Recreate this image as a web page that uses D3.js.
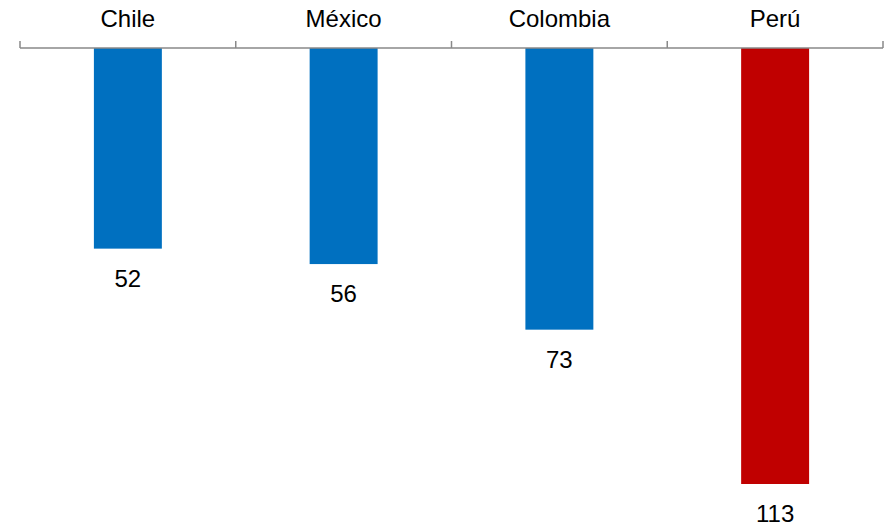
<!DOCTYPE html>
<html>
<head>
<meta charset="utf-8">
<script src="https://cdn.jsdelivr.net/npm/d3@7"></script>
<style>
  html, body { margin: 0; padding: 0; background: #ffffff; }
  svg { display: block; }
  text { font-family: "Liberation Sans", Arial, sans-serif; fill: #000; }
</style>
</head>
<body>
<svg id="chart" width="891" height="527"></svg>
<script>
// Country categories and their values
const countries = ["Chile", "México", "Colombia", "Perú"];
const values = [52, 56, 73, 113];
const barColors = ["#0070C0", "#0070C0", "#0070C0", "#C00000"];

const W = 891, H = 527;
const axisY = 48;
const left = 20, right = 883;

const svg = d3.select("#chart");

// Segment scale: one equal band per country along the axis
const seg = d3.scaleBand().domain(countries).range([left, right]).padding(0);
// Bar scale: narrow bars centered in each segment
const x = d3.scaleBand().domain(countries).range([left, right])
  .paddingInner(0.685).paddingOuter(0.3425);
// Values hang down from the axis
const y = d3.scaleLinear().domain([0, 113]).range([axisY, 484]);

// Bars
svg.append("g").selectAll("rect")
  .data(countries)
  .join("rect")
  .attr("x", d => x(d))
  .attr("y", y(0))
  .attr("width", x.bandwidth())
  .attr("height", (d, i) => y(values[i]) - y(0))
  .attr("fill", (d, i) => barColors[i]);

// Axis line with boundary ticks pointing up
const axisG = svg.append("g");
axisG.append("line")
  .attr("x1", left).attr("x2", right)
  .attr("y1", axisY).attr("y2", axisY)
  .attr("stroke", "#898989").attr("stroke-width", 1.5);
const bounds = countries.map(c => seg(c)).concat([right]);
axisG.selectAll("line.tick")
  .data(bounds)
  .join("line")
  .attr("class", "tick")
  .attr("x1", d => d).attr("x2", d => d)
  .attr("y1", axisY - 7).attr("y2", axisY)
  .attr("stroke", "#898989").attr("stroke-width", 1.5);

// Category labels above the axis
svg.append("g").selectAll("text")
  .data(countries)
  .join("text")
  .attr("x", d => seg(d) + seg.bandwidth() / 2)
  .attr("y", 27)
  .attr("text-anchor", "middle")
  .attr("font-size", 24)
  .text(d => d);

// Value labels below each bar
svg.append("g").selectAll("text")
  .data(countries)
  .join("text")
  .attr("x", d => x(d) + x.bandwidth() / 2)
  .attr("y", (d, i) => y(values[i]) + 38)
  .attr("text-anchor", "middle")
  .attr("font-size", 24)
  .text((d, i) => values[i]);
</script>
</body>
</html>
